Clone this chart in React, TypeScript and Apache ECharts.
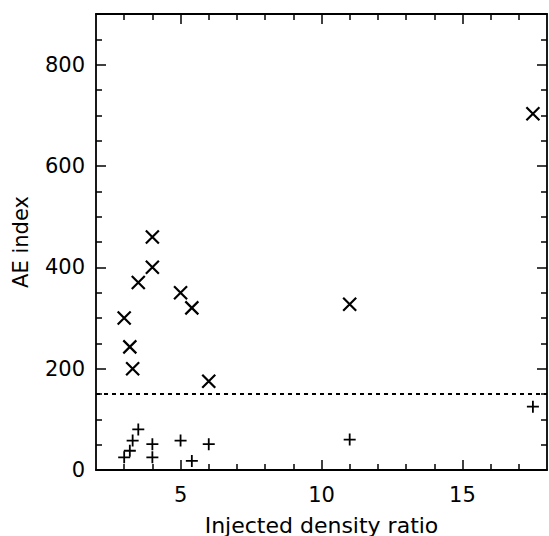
import React, { useEffect, useRef } from "react";
import * as echarts from "echarts";

const densityRatio = [3.0, 3.2, 3.3, 3.5, 4.0, 4.0, 5.0, 5.4, 6.0, 11.0, 17.5];
const aeCross = [300, 243, 200, 370, 460, 400, 350, 320, 175, 327, 703];
const aePlus = [25, 38, 58, 80, 51, 25, 58, 18, 51, 60, 125];
const thresholdAE = 150;

const xMajorTicks = [5, 10, 15];
const xMinorTicks = [3, 4, 6, 7, 8, 9, 11, 12, 13, 14, 16, 17];
const yMajorTicks = [0, 200, 400, 600, 800];
const yMinorTicks = [50, 100, 150, 250, 300, 350, 450, 500, 550, 650, 700, 750, 850];

const FONT = "DejaVu Sans";
const INK = "#000";

function xAxisDef(position: string, ticks: number[], len: number, major: boolean, withLabels: boolean, extra: any = {}) {
  return {
    type: "value",
    position,
    min: 2,
    max: 18,
    axisLine: { show: major, onZero: false, lineStyle: { color: INK, width: 1.8 } },
    axisTick: { show: true, inside: true, length: len, customValues: ticks, lineStyle: { color: INK, width: 1.5 } },
    axisLabel: withLabels
      ? { show: true, customValues: ticks, margin: 14, color: INK, fontSize: 21, fontFamily: FONT }
      : { show: false },
    splitLine: { show: false },
    ...extra,
  };
}

function yAxisDef(position: string, ticks: number[], len: number, major: boolean, withLabels: boolean, extra: any = {}) {
  return {
    type: "value",
    position,
    min: 0,
    max: 900,
    axisLine: { show: major, onZero: false, lineStyle: { color: INK, width: 1.8 } },
    axisTick: { show: true, inside: true, length: len, customValues: ticks, lineStyle: { color: INK, width: 1.5 } },
    axisLabel: withLabels
      ? { show: true, customValues: ticks, margin: 11, color: INK, fontSize: 21, fontFamily: FONT }
      : { show: false },
    splitLine: { show: false },
    ...extra,
  };
}

export default function App() {
  const ref = useRef<HTMLDivElement>(null);
  useEffect(() => {
    if (!ref.current) return;
    const chart = echarts.init(ref.current, null, { renderer: "svg" });
    chart.setOption({
      animation: false,
      backgroundColor: "#fff",
      grid: { left: 96, right: 2, top: 14, bottom: 66, containLabel: false, outerBoundsMode: "none" },
      xAxis: [
        xAxisDef("bottom", xMajorTicks, 10, true, true, {
          name: "Injected density ratio",
          nameLocation: "middle",
          nameGap: 44,
          nameTextStyle: { color: INK, fontSize: 22, fontFamily: FONT },
        }),
        xAxisDef("bottom", xMinorTicks, 6, false, false),
        xAxisDef("top", xMajorTicks, 10, true, false),
        xAxisDef("top", xMinorTicks, 6, false, false),
      ],
      yAxis: [
        yAxisDef("left", yMajorTicks, 10, true, true, {
          name: "AE index",
          nameLocation: "middle",
          nameRotate: 90,
          nameGap: 65,
          nameTextStyle: { color: INK, fontSize: 21, fontFamily: FONT },
        }),
        yAxisDef("left", yMinorTicks, 6, false, false),
        yAxisDef("right", yMajorTicks, 10, true, false),
        yAxisDef("right", yMinorTicks, 6, false, false),
      ],
      series: [
        {
          type: "scatter",
          xAxisIndex: 0,
          yAxisIndex: 0,
          symbol: "path://M0,0L10,10M10,0L0,10",
          symbolSize: 13,
          itemStyle: { color: "transparent", borderColor: INK, borderWidth: 2.2, opacity: 1 },
          data: densityRatio.map((x, i) => [x, aeCross[i]]),
          markLine: {
            silent: true,
            symbol: "none",
            label: { show: false },
            lineStyle: { color: INK, type: [4, 4], width: 1.8 },
            data: [{ yAxis: thresholdAE }],
          },
        },
        {
          type: "scatter",
          xAxisIndex: 0,
          yAxisIndex: 0,
          symbol: "path://M5,0L5,10M0,5L10,5",
          symbolSize: 12,
          itemStyle: { color: "transparent", borderColor: INK, borderWidth: 1.8, opacity: 1 },
          data: densityRatio.map((x, i) => [x, aePlus[i]]),
        },
      ],
    });
    return () => chart.dispose();
  }, []);
  return <div ref={ref} style={{ width: 549, height: 536, position: "absolute", left: 0, top: 0 }} />;
}
